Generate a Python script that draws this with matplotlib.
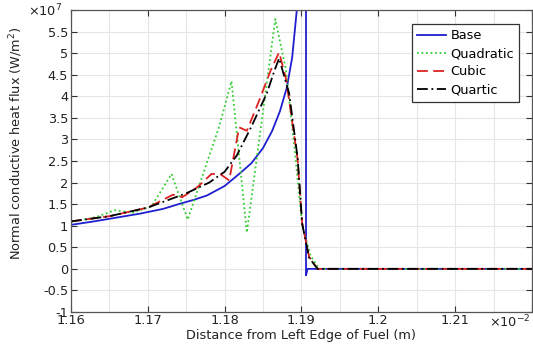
import numpy as np
import matplotlib
matplotlib.use("Agg")
import matplotlib.pyplot as plt
from matplotlib.ticker import MultipleLocator

# x in units of 1e-2 m, y in units of 1e7 W/m^2
base_x = [1.160, 1.163, 1.166, 1.169, 1.172, 1.1742, 1.1760, 1.1777, 1.1800, 1.1819,
          1.1835, 1.1850, 1.1862, 1.1872, 1.1881, 1.1888, 1.1894, 1.1898, 1.1906,
          1.1906, 1.1908, 1.220]
base_y = [1.02, 1.10, 1.19, 1.28, 1.39, 1.51, 1.60, 1.70, 1.92, 2.20,
          2.45, 2.80, 3.20, 3.65, 4.20, 4.90, 6.00, 8.00, 8.00,
          -0.15, 0.0, 0.0]

quad_x = [1.160, 1.1633, 1.1657, 1.1680, 1.1705, 1.1731, 1.1752, 1.1793, 1.1809,
          1.1829, 1.1866, 1.1880, 1.1891, 1.1901, 1.1912, 1.1923, 1.220]
quad_y = [1.08, 1.20, 1.36, 1.30, 1.45, 2.20, 1.14, 3.30, 4.35,
          0.84, 5.79, 4.60, 2.80, 1.00, 0.30, 0.0, 0.0]

cub_x = [1.160, 1.165, 1.170, 1.1733, 1.1745, 1.1765, 1.1783, 1.1794, 1.1806,
         1.1819, 1.1829, 1.1845, 1.1860, 1.1871, 1.1880, 1.1895, 1.1901, 1.1910,
         1.1921, 1.220]
cub_y = [1.10, 1.22, 1.42, 1.72, 1.66, 1.90, 2.20, 2.20, 2.05,
         3.28, 3.20, 3.90, 4.60, 5.02, 4.40, 2.55, 1.05, 0.28,
         0.0, 0.0]

quar_x = [1.160, 1.165, 1.170, 1.175, 1.178, 1.180, 1.1816, 1.1835, 1.1855,
          1.1865, 1.1871, 1.1878, 1.1884, 1.1895, 1.1901, 1.1910, 1.1921, 1.220]
quar_y = [1.10, 1.22, 1.42, 1.75, 2.00, 2.25, 2.63, 3.30, 4.07,
          4.60, 4.88, 4.44, 4.07, 2.58, 1.05, 0.26, 0.0, 0.0]

fs = 9.3
fig = plt.figure(figsize=(5.33, 3.44), dpi=100)
ax = fig.add_axes([0.133, 0.093, 0.865, 0.878])

ax.plot(base_x, base_y, color="#1f1fcf", lw=1.3, label="Base")
ax.plot(quad_x, quad_y, color="#33cc33", lw=1.3, ls=(0, (1, 1.5)), label="Quadratic")
ax.plot(cub_x, cub_y, color="#dd2222", lw=1.3, ls=(0, (6, 3)), label="Cubic")
ax.plot(quar_x, quar_y, color="black", lw=1.3, ls=(0, (6, 2, 1, 2)), label="Quartic")

ax.set_xlim(1.16, 1.22)
ax.set_ylim(-1, 6)
ax.xaxis.set_minor_locator(MultipleLocator(0.005))

xt = [1.16, 1.17, 1.18, 1.19, 1.2, 1.21, 1.22]
ax.set_xticks(xt)
ax.set_xticklabels(["1.16", "1.17", "1.18", "1.19", "1.2", "1.21", ""])
yt = np.arange(-1, 6.01, 0.5)
ax.set_yticks(yt)
ax.set_yticklabels([("%g" % v) if v < 5.9 else "" for v in yt])

ax.grid(True, which="major", color="#e6e6e6", lw=0.8)
ax.grid(True, which="minor", axis="x", color="#e6e6e6", lw=0.8)
ax.set_axisbelow(True)
ax.tick_params(which="major", direction="in", top=True, right=True, length=4,
               labelsize=fs, pad=2, colors="#333333", labelcolor="#222222")
ax.tick_params(axis="x", pad=1.5)
ax.tick_params(which="minor", length=0)
for s in ax.spines.values():
    s.set_color("#555555")
    s.set_linewidth(0.9)

ax.set_xlabel("Distance from Left Edge of Fuel (m)", fontsize=fs, color="#222222")
ax.xaxis.set_label_coords(0.5, -0.055)
ax.set_ylabel("Normal conductive heat flux (W/m$^2$)", fontsize=fs, color="#222222")
ax.yaxis.set_label_coords(-0.1, 0.56)

fig.text(0.052, 0.953, r"$\times10^{7}$", fontsize=fs, color="#222222")
fig.text(0.918, 0.048, r"$\times10^{-2}$", fontsize=fs, color="#222222")

leg = ax.legend(loc="upper right", bbox_to_anchor=(0.987, 0.975), fontsize=fs,
                fancybox=False, framealpha=1, edgecolor="#333333",
                handlelength=2.2, handletextpad=0.4, borderpad=0.4,
                labelspacing=0.4)
leg.get_frame().set_linewidth(0.9)

fig.savefig("out.png", dpi=100)
